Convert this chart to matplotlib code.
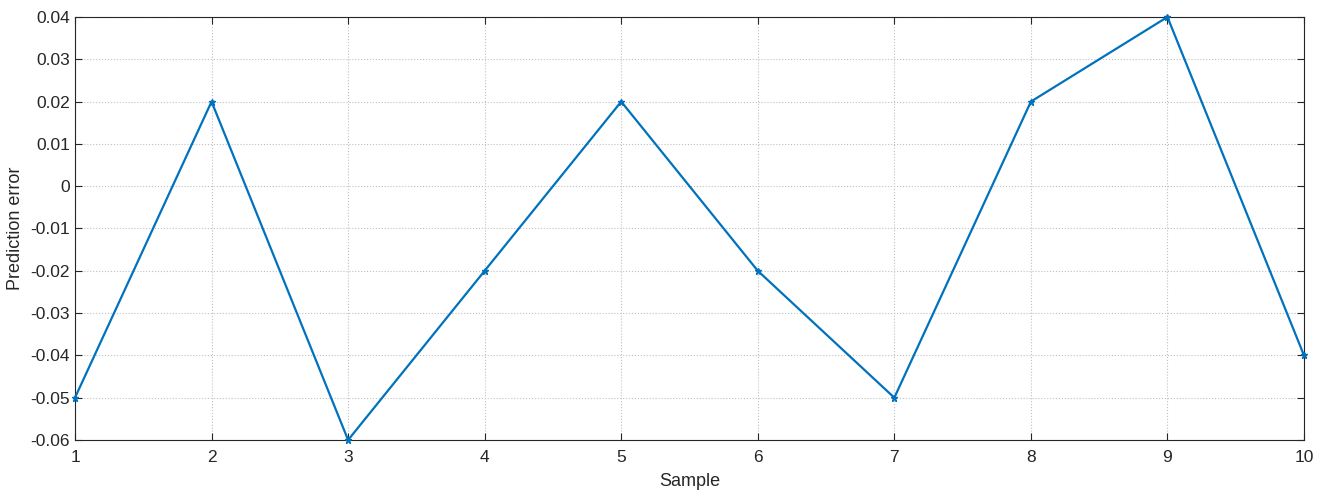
import numpy as np
import matplotlib
matplotlib.use('Agg')
import matplotlib.pyplot as plt

plt.rcParams['font.family'] = ['Liberation Sans', 'DejaVu Sans']

sample = [1, 2, 3, 4, 5, 6, 7, 8, 9, 10]
pred_error = [-0.05, 0.02, -0.06, -0.02, 0.02, -0.02, -0.05, 0.02, 0.04, -0.04]
yticks = [-0.06, -0.05, -0.04, -0.03, -0.02, -0.01, 0, 0.01, 0.02, 0.03, 0.04]
ylabels = ['-0.06', '-0.05', '-0.04', '-0.03', '-0.02', '-0.01', '0', '0.01', '0.02', '0.03', '0.04']

fig = plt.figure(figsize=(13.25, 4.94), dpi=100)
ax = fig.add_axes([75/1325, 1 - 440/494, (1304 - 75)/1325, (440 - 17)/494])

ax.plot(sample, pred_error, color='#0072BD', lw=1.6, marker='*', ms=5, clip_on=False, zorder=3)

ax.set_xlim(1, 10)
ax.set_ylim(-0.06, 0.04)
ax.set_xticks(sample)
ax.set_yticks(yticks)
ax.set_yticklabels(ylabels)
ax.grid(True, color='#c0c0c0', ls=':', lw=0.8)
ax.tick_params(direction='in', top=True, right=True, length=5, labelsize=12.5, colors='#262626')
ax.tick_params(axis='x', pad=7)
for s in ax.spines.values():
    s.set_color('#262626')
    s.set_linewidth(0.8)

ax.set_xlabel('Sample', fontsize=13, color='#262626', labelpad=6)
ax.set_ylabel('Prediction error', fontsize=13, color='#262626', labelpad=5)

fig.savefig('out.png', dpi=100)
